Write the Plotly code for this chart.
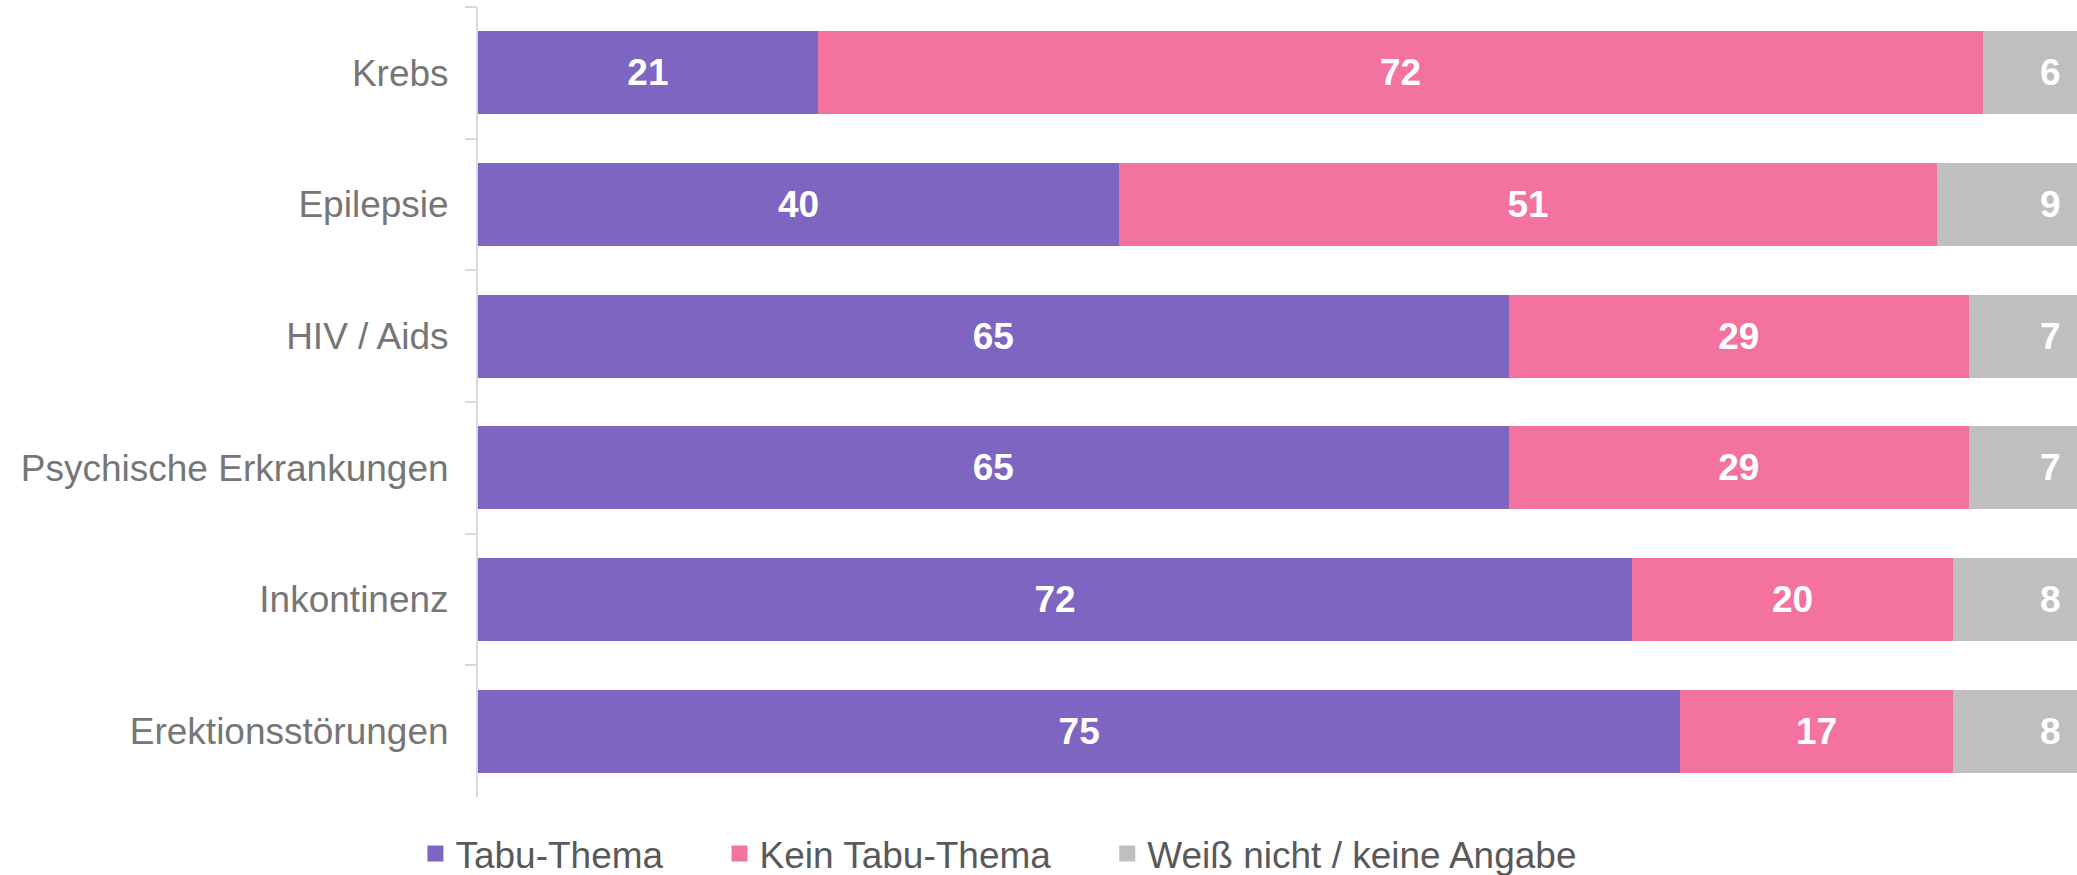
import plotly.graph_objects as go

categories = ["Krebs", "Epilepsie", "HIV / Aids", "Psychische Erkrankungen", "Inkontinenz", "Erektionsstörungen"]
# bar lengths (percent)
tabu = [21.2, 40.0, 64.3, 64.3, 72.0, 75.0]
kein_tabu = [72.7, 51.0, 28.7, 28.7, 20.0, 17.0]
weiss_nicht = [6.1, 9.0, 7.0, 7.0, 8.0, 8.0]
# published (rounded) data labels
tabu_labels = ["21", "40", "65", "65", "72", "75"]
kein_tabu_labels = ["72", "51", "29", "29", "20", "17"]
weiss_nicht_labels = ["6", "9", "7", "7", "8", "8"]
series_names = ["Tabu-Thema", "Kein Tabu-Thema", "Weiß nicht / keine Angabe"]

PURPLE = "#7E65C1"
PINK = "#F372A0"
GREY = "#BFBFBF"
FONT = "Arial, Liberation Sans, sans-serif"
LABEL_SIZE = 37
NBSP = "\u00a0"

fig = go.Figure()
for name, vals, labels, col, show_text in [
    (series_names[0], tabu, tabu_labels, PURPLE, True),
    (series_names[1], kein_tabu, kein_tabu_labels, PINK, True),
    (series_names[2], weiss_nicht, weiss_nicht_labels, GREY, False),
]:
    fig.add_trace(go.Bar(
        y=categories, x=vals, orientation="h", name=name, showlegend=False,
        marker=dict(color=col, line=dict(width=0)),
        text=labels if show_text else None,
        textposition="inside" if show_text else "none",
        insidetextanchor="middle",
        textangle=0,
        constraintext="none",
        textfont=dict(family=FONT, size=LABEL_SIZE, color="white", weight="bold"),
        hoverinfo="skip",
    ))

# legend entries (square swatches)
for i, (name, col) in enumerate(zip(series_names, [PURPLE, PINK, GREY])):
    label = name + (NBSP * 5 if i < 2 else "")
    fig.add_trace(go.Scatter(
        x=[None], y=[None], mode="markers", name=label,
        marker=dict(symbol="square", size=20, color=col),
        showlegend=True, hoverinfo="skip",
    ))

# grey labels sit at the right edge of the visible area
for cat, lab in zip(categories, weiss_nicht_labels):
    fig.add_annotation(
        x=1, xref="paper", y=cat, yref="y", xanchor="right", xshift=-14,
        text=lab, showarrow=False,
        font=dict(family=FONT, size=LABEL_SIZE, color="white", weight="bold"),
    )

fig.update_layout(
    width=2077, height=875,
    margin=dict(l=478, r=0, t=7, b=78, pad=0, autoexpand=False),
    barmode="stack",
    bargap=0.37,
    plot_bgcolor="white", paper_bgcolor="white",
    showlegend=True,
    legend=dict(
        orientation="h", xref="container", x=0.2, xanchor="left",
        yref="container", y=0.024, yanchor="middle",
        font=dict(family=FONT, size=LABEL_SIZE, color="#595959"),
        traceorder="normal", itemwidth=30,
    ),
    xaxis=dict(range=[0, 99.75], visible=False, fixedrange=True),
    yaxis=dict(
        categoryorder="array", categoryarray=categories, autorange="reversed",
        showline=True, linecolor="#D9D9D9", linewidth=2,
        ticks="outside", tickson="boundaries", ticklen=11, tickcolor="#D9D9D9", tickwidth=2,
        ticklabelstandoff=20,
        tickfont=dict(family=FONT, size=LABEL_SIZE, color="#767676"),
        showgrid=False, zeroline=False, automargin=False, fixedrange=True,
    ),
)

fig.write_html("out.html")
